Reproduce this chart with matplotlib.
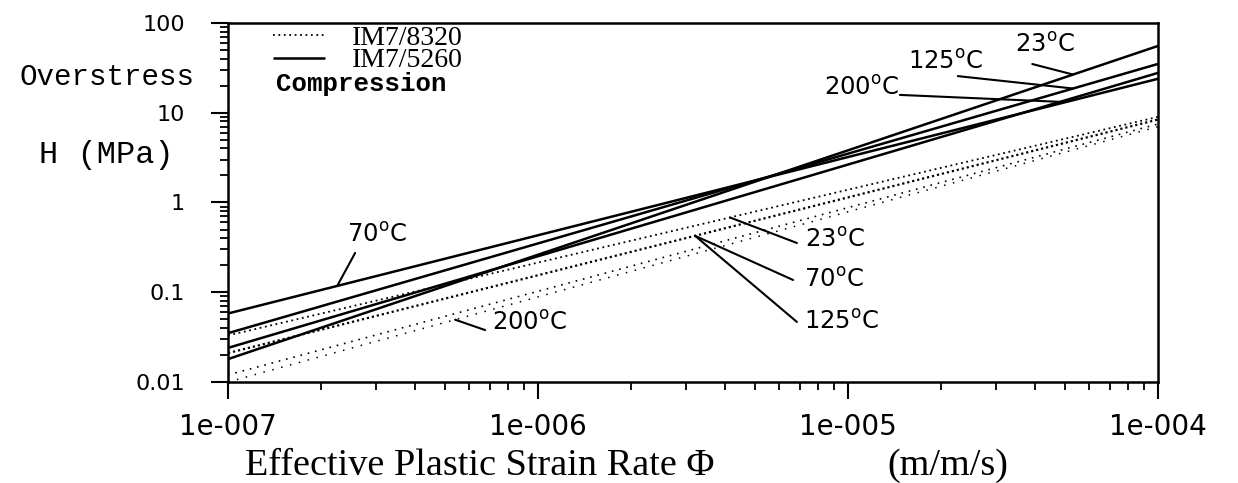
import numpy as np
import matplotlib.pyplot as plt
from matplotlib.ticker import FixedLocator, LogLocator, NullFormatter

plt.rcParams['mathtext.fontset'] = 'custom'
plt.rcParams['mathtext.rm'] = 'DejaVu Sans'

# strain rate range covered by the fitted lines
rate = [1e-7, 1e-4]

# IM7/5260 (solid) overstress at the two ends, MPa
h5260_23 = [0.018, 55.5]
h5260_70 = [0.058, 23.9]
h5260_125 = [0.035, 35.0]
h5260_200 = [0.024, 27.8]

# IM7/8320 (dotted)
h8320_23 = [0.033, 9.0]
h8320_70 = [0.021, 8.4]
h8320_125 = [0.012, 7.5]
h8320_200 = [0.010, 7.0]

yticks = [0.01, 0.1, 1, 10, 100]
ytick_labels = ['0.01', '0.1', '1', '10', '100']
xticks = [1e-7, 1e-6, 1e-5, 1e-4]
xtick_labels = ['1e-007', '1e-006', '1e-005', '1e-004']


def on_line(h, x):
    # point on a straight log-log line
    return 10 ** np.interp(np.log10(x), np.log10(rate), np.log10(h))


def deg(t):
    return t + r'$^{\mathrm{o}}$C'


fig = plt.figure(figsize=(12.38, 4.83), dpi=100)
ax = fig.add_axes([0.1842, 0.2091, 0.7512, 0.7433])
ax.set_xscale('log')
ax.set_yscale('log')

solid = dict(color='black', lw=1.8, solid_capstyle='butt')
l_solid, = ax.plot(rate, h5260_23, **solid)
ax.plot(rate, h5260_70, **solid)
ax.plot(rate, h5260_125, **solid)
ax.plot(rate, h5260_200, **solid)

l_dot, = ax.plot(rate, h8320_23, color='black', lw=1.3, ls=(0, (1, 2)))
ax.plot(rate, h8320_70, color='black', lw=1.6, ls=(0, (1, 1.3)))
ax.plot(rate, h8320_125, color='black', lw=1.2, ls=(0, (1, 3.5)))
ax.plot(rate, h8320_200, color='black', lw=1.1, ls=(0, (1, 5)))

ax.set_xlim(1e-7, 1e-4)
ax.set_ylim(0.01, 100)

ax.xaxis.set_major_locator(FixedLocator(xticks))
ax.set_xticklabels(xtick_labels, fontsize=20, family='DejaVu Sans')
ax.yaxis.set_major_locator(FixedLocator(yticks))
ax.set_yticklabels(ytick_labels, fontsize=16, family='DejaVu Sans')
for axis in (ax.xaxis, ax.yaxis):
    axis.set_minor_locator(LogLocator(base=10, subs=np.arange(2, 10)))
    axis.set_minor_formatter(NullFormatter())

ax.tick_params(which='major', direction='out', length=12, width=1.5,
               top=False, right=False)
ax.tick_params(which='minor', direction='out', length=6, width=1.3,
               top=False, right=False)
ax.tick_params(axis='y', which='major', pad=19)
ax.tick_params(axis='x', which='major', pad=10)
for sp in ax.spines.values():
    sp.set_linewidth(1.8)

# legend: one entry per row so the rows can sit as close as in the original
leg_kw = dict(loc='center left', frameon=False, handlelength=1.87,
              handletextpad=0.97, borderpad=0, borderaxespad=0,
              prop={'family': 'Liberation Serif', 'size': 20})
leg1 = ax.legend([l_dot], ['IM7/8320'], bbox_to_anchor=(0.048, 0.958),
                 **leg_kw)
ax.add_artist(leg1)
ax.legend([l_solid], ['IM7/5260'], bbox_to_anchor=(0.048, 0.895), **leg_kw)
ax.text(0.052, 0.830, 'Compression', transform=ax.transAxes,
        family='Liberation Mono', weight='bold', fontsize=18.5,
        ha='left', va='center')

lbl = dict(fontsize=17.5, ha='center', va='center', family='DejaVu Sans')
lead = dict(arrowstyle='-', color='black', lw=1.5, shrinkA=0, shrinkB=0)

# IM7/5260 labels
ax.text(3.03e-7, 0.435, deg('70'), **lbl)
ax.annotate('', xy=(2.25e-7, on_line(h5260_70, 2.25e-7)),
            xytext=(2.57e-7, 0.274), arrowprops=lead)
ax.text(4.31e-5, 56.9, deg('23'), **lbl)
ax.annotate('', xy=(5.32e-5, on_line(h5260_23, 5.32e-5)),
            xytext=(3.93e-5, 34.9), arrowprops=lead)
ax.text(2.06e-5, 36.7, deg('125'), **lbl)
ax.annotate('', xy=(5.32e-5, on_line(h5260_125, 5.32e-5)),
            xytext=(2.26e-5, 25.6), arrowprops=lead)
ax.text(1.11e-5, 18.9, deg('200'), **lbl)
ax.annotate('', xy=(4.83e-5, on_line(h5260_200, 4.83e-5)),
            xytext=(1.47e-5, 15.8), arrowprops=lead)

# IM7/8320 labels
ax.text(9.08e-6, 0.382, deg('23'), **lbl)
ax.annotate('', xy=(4.16e-6, on_line(h8320_23, 4.16e-6)),
            xytext=(6.84e-6, 0.354), arrowprops=lead)
ax.text(9.0e-6, 0.137, deg('70'), **lbl)
ax.annotate('', xy=(3.21e-6, on_line(h8320_70, 3.21e-6)),
            xytext=(6.65e-6, 0.137), arrowprops=lead)
ax.text(9.57e-6, 0.0467, deg('125'), **lbl)
ax.annotate('', xy=(3.21e-6, on_line(h8320_70, 3.21e-6)),
            xytext=(6.84e-6, 0.0467), arrowprops=lead)
ax.text(9.41e-7, 0.0454, deg('200'), **lbl)
ax.annotate('', xy=(5.40e-7, on_line(h8320_200, 5.40e-7)),
            xytext=(6.75e-7, 0.0379), arrowprops=lead)

# axis titles
fig.text(107 / 1238, 1 - 77 / 483, 'Overstress', family='Liberation Mono',
         fontsize=21, ha='center', va='center')
fig.text(106 / 1238, 1 - 155 / 483, 'H (MPa)', family='Liberation Mono',
         fontsize=23, ha='center', va='center')
fig.text(245 / 1238, 1 - 466 / 483, 'Effective Plastic Strain Rate \u03a6',
         family='Liberation Serif', fontsize=27.5, ha='left', va='center')
fig.text(948 / 1238, 1 - 466 / 483, '(m/m/s)',
         family='Liberation Serif', fontsize=27.5, ha='center', va='center')

plt.savefig('out.png', dpi=100)
